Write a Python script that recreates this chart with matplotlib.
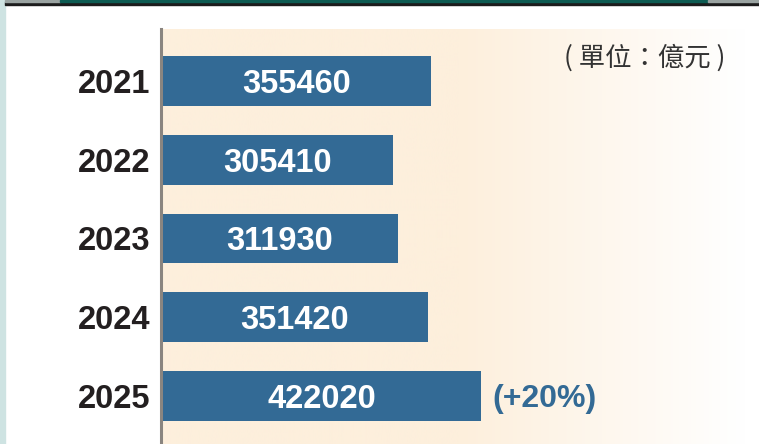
import matplotlib
matplotlib.use("Agg")
import matplotlib.pyplot as plt
import numpy as np
from matplotlib.patches import Rectangle

# =============== DATA ===============
YEARS = ["2021", "2022", "2023", "2024", "2025"]
VALUES = [355460, 305410, 311930, 351420, 422020]
GROWTH_LABEL = "(+20%)"
UNIT_LABEL = "( 單位：億元 )"

# =============== STYLE ===============
BAR_COLOR = "#336a95"
BEIGE = (253 / 255, 239 / 255, 220 / 255)
TEXT_DARK = "#231f20"
FS = 23.5

W, H = 759, 444
fig = plt.figure(figsize=(W / 100, H / 100), dpi=100, facecolor="white")


def fx(px):
    return px / W


def fy(py):
    return 1 - py / H


# left strip and top rule
fig.patches.append(Rectangle((0, 0), fx(5), 1, transform=fig.transFigure,
                             color="#cee3e2", zorder=0))
fig.patches.append(Rectangle((fx(5), fy(5)), 1, 3 / H, transform=fig.transFigure,
                             color="#1c1c1c", zorder=1))
fig.patches.append(Rectangle((fx(5), fy(2)), fx(55), 2 / H, transform=fig.transFigure,
                             color="#9aa3a1", zorder=2))
fig.patches.append(Rectangle((fx(60), fy(2)), fx(648), 2 / H, transform=fig.transFigure,
                             color="#0d5b52", zorder=2))
fig.patches.append(Rectangle((fx(708), fy(2)), fx(51), 2 / H, transform=fig.transFigure,
                             color="#9aa3a1", zorder=2))

# gradient background
bg = fig.add_axes([fx(162), 0, fx(W - 162), (H - 29) / H], zorder=0)
xs = np.linspace(162, W, 600)
t = np.clip((xs - 460) / (745 - 460), 0, 1)
grad = np.ones((1, len(xs), 3))
for c in range(3):
    grad[0, :, c] = BEIGE[c] + (1 - BEIGE[c]) * t
bg.imshow(grad, aspect="auto", extent=[0, 1, 0, 1])
bg.axis("off")

# main axes
ax = fig.add_axes([fx(161), 0, fx(W - 161), (H - 29) / H], zorder=1)
ax.patch.set_alpha(0)
y = np.arange(len(YEARS))
ax.barh(y, VALUES, height=0.633, color=BAR_COLOR, left=0)
ax.set_xlim(-1300, 790000)
ax.set_ylim(4.61, -0.66)

for i, v in enumerate(VALUES):
    ax.text(v / 2, i, f"{v}", ha="center", va="center_baseline", color="white",
            fontsize=FS, fontweight="bold", family="Liberation Sans")

ax.text(VALUES[-1] + 11 * 1324, len(VALUES) - 1, GROWTH_LABEL, ha="left",
        va="center_baseline", color=BAR_COLOR, fontsize=23, fontweight="bold",
        family="Liberation Sans")

ax.set_yticks(y)
ax.set_yticklabels(YEARS, fontsize=FS, fontweight="bold", family="Liberation Sans",
                   color=TEXT_DARK, va="center_baseline")
ax.tick_params(axis="y", length=0, pad=8)
ax.set_xticks([])
for s in ["top", "right", "bottom"]:
    ax.spines[s].set_visible(False)
ax.spines["left"].set_color("#8a8580")
ax.spines["left"].set_linewidth(2.2)

fig.text(fx(645), fy(58), UNIT_LABEL, ha="center", va="center", fontsize=19,
         color="#333333", family=["Noto Sans CJK TC", "DejaVu Sans"])

fig.savefig("out.png", dpi=100, facecolor="white")
